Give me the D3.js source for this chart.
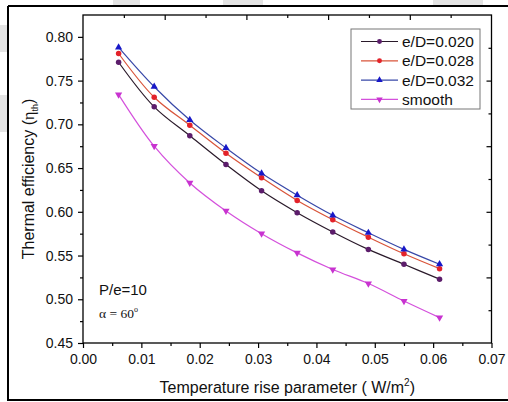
<!DOCTYPE html>
<html>
<head>
<meta charset="utf-8">
<script src="https://cdn.jsdelivr.net/npm/d3@7"></script>
<style>
  body { margin: 0; background: #fff; }
  svg { display: block; font-family: "Liberation Sans", Arial, sans-serif; }
</style>
</head>
<body>
<svg id="chart" width="508" height="402"></svg>
<script>
// temperature rise parameter values (x)
const xVals = [0.0061, 0.0122, 0.0183, 0.0245, 0.0306, 0.0367, 0.0428, 0.0489, 0.0550, 0.0611];

// thermal efficiency per series
const ed020 = [0.771, 0.720, 0.687, 0.654, 0.624, 0.599, 0.577, 0.557, 0.540, 0.523];
const ed028 = [0.781, 0.731, 0.699, 0.667, 0.639, 0.613, 0.591, 0.571, 0.552, 0.535];
const ed032 = [0.788, 0.743, 0.705, 0.673, 0.644, 0.619, 0.596, 0.576, 0.557, 0.540];
const smooth = [0.734, 0.675, 0.633, 0.601, 0.575, 0.553, 0.534, 0.518, 0.498, 0.479];

const seriesNames = ['e/D=0.020', 'e/D=0.028', 'e/D=0.032', 'smooth'];
const xTicks = [0, 0.01, 0.02, 0.03, 0.04, 0.05, 0.06, 0.07];
const yTicks = [0.45, 0.50, 0.55, 0.60, 0.65, 0.70, 0.75, 0.80];

const series = [
    { name: seriesNames[0], values: ed020, line: '#2a1a2a', mark: '#5c1d6b', shape: 'circle' },
    { name: seriesNames[1], values: ed028, line: '#d9543a', mark: '#e3222a', shape: 'circle' },
    { name: seriesNames[2], values: ed032, line: '#3848a8', mark: '#1818c8', shape: 'up' },
    { name: seriesNames[3], values: smooth, line: '#d450dc', mark: '#c833d0', shape: 'down' }
];

const svg = d3.select('#chart');
const L = 83, R = 491.5, T = 15, B = 343;

const x = d3.scaleLinear().domain([0, 0.07]).range([L, R]);
const y = d3.scaleLinear().domain([0.45, 0.825]).range([B, T]);

// faint scan artefacts around the outer frame
const grey = [[0, 25, 8, 27], [0, 95, 8, 37], [113, 0, 27, 5], [223, 0, 40, 5], [433, 0, 50, 5]];
svg.selectAll('.artefact').data(grey).enter().append('rect')
    .attr('x', d => d[0]).attr('y', d => d[1]).attr('width', d => d[2]).attr('height', d => d[3])
    .attr('fill', '#e4e4e4');

// outer frame
svg.append('path')
    .attr('d', 'M 8 6 L 508 6 M 8 6 L 8 400 L 508 400')
    .attr('stroke', '#000').attr('stroke-width', 2).attr('fill', 'none');

// plot frame
svg.append('rect')
    .attr('x', L).attr('y', T).attr('width', R - L).attr('height', B - T)
    .attr('fill', 'none').attr('stroke', '#000').attr('stroke-width', 1.3);

const fmt = d3.format('.2f');

// left axis
const yMinor = d3.range(0.475, 0.81, 0.05);
const leftAx = svg.append('g').attr('transform', `translate(${L},0)`);
leftAx.call(d3.axisLeft(y).tickValues(yTicks).tickFormat(fmt).tickSize(5).tickPadding(5));
leftAx.append('g').call(d3.axisLeft(y).tickValues(yMinor).tickFormat('').tickSize(3));

// bottom axis
const xMinor = d3.range(0.005, 0.07, 0.01);
const bottomAx = svg.append('g').attr('transform', `translate(0,${B})`);
bottomAx.call(d3.axisBottom(x).tickValues(xTicks).tickFormat(fmt).tickSize(5).tickPadding(6));
bottomAx.append('g').call(d3.axisBottom(x).tickValues(xMinor).tickFormat('').tickSize(3));

svg.selectAll('.domain').remove();
svg.selectAll('.tick line').attr('stroke', '#000').attr('stroke-width', 1.2);
svg.selectAll('.tick text')
    .attr('fill', '#111')
    .style('font-size', '14px')
    .style('font-family', '"Liberation Sans", Arial, sans-serif');

// top and right axes: ten divisions, ticks pointing in
const topS = d3.scaleLinear().domain([0, 10]).range([L, R]);
const rightS = d3.scaleLinear().domain([0, 10]).range([B, T]);
const topAx = svg.append('g').attr('transform', `translate(0,${T})`);
topAx.call(d3.axisTop(topS).tickValues(d3.range(1, 10)).tickFormat('').tickSizeInner(0).tickSizeOuter(0));
topAx.selectAll('.tick line').attr('y2', d => d % 2 ? 3 : 5);
const rightAx = svg.append('g').attr('transform', `translate(${R},0)`);
rightAx.call(d3.axisRight(rightS).tickValues(d3.range(1, 10)).tickFormat('').tickSizeInner(0).tickSizeOuter(0));
rightAx.selectAll('.tick line').attr('x2', d => d % 2 ? -3 : -5);
topAx.select('.domain').remove();
rightAx.select('.domain').remove();
topAx.selectAll('.tick line').attr('stroke', '#000').attr('stroke-width', 1.2);
rightAx.selectAll('.tick line').attr('stroke', '#000').attr('stroke-width', 1.2);

// curves
const line = d3.line().curve(d3.curveCatmullRom.alpha(0.5))
    .x((d, i) => x(xVals[i])).y(d => y(d));

const plot = svg.append('g');
series.forEach(s => {
    plot.append('path')
        .attr('d', line(s.values))
        .attr('fill', 'none').attr('stroke', s.line).attr('stroke-width', 1.2);
});

function marker(g, shape, color, cx, cy, size) {
    if (shape === 'circle') {
        g.append('circle').attr('cx', cx).attr('cy', cy).attr('r', size * 0.55).attr('fill', color);
    } else {
        const sym = d3.symbol().type(d3.symbolTriangle).size(size * size * 0.9);
        g.append('path').attr('d', sym())
            .attr('transform', `translate(${cx},${cy})` + (shape === 'down' ? ' rotate(180)' : ''))
            .attr('fill', color);
    }
}

series.forEach(s => {
    const g = plot.append('g');
    s.values.forEach((v, i) => marker(g, s.shape, s.mark, x(xVals[i]), y(v), 5));
});

// legend
const leg = svg.append('g');
leg.append('rect').attr('x', 351).attr('y', 29).attr('width', 129).attr('height', 80)
    .attr('fill', '#fff').attr('stroke', '#777').attr('stroke-width', 1);
series.forEach((s, i) => {
    const yy = 41.5 + i * 19.3;
    leg.append('line').attr('x1', 361).attr('x2', 398).attr('y1', yy).attr('y2', yy)
        .attr('stroke', s.line).attr('stroke-width', 1.2);
    marker(leg, s.shape, s.mark, 379.5, yy, 4.5);
    leg.append('text').attr('x', 402).attr('y', yy + 5.5)
        .style('font-size', '15.5px').attr('fill', '#111').text(s.name);
});

// annotations
svg.append('text').attr('x', 99).attr('y', 295).style('font-size', '15px').attr('fill', '#111')
    .text('P/e=10');
const alpha = svg.append('text').attr('x', 99).attr('y', 318)
    .style('font-family', '"Liberation Serif", "Times New Roman", serif').style('font-size', '13.5px').attr('fill', '#111');
alpha.append('tspan').text('\u03b1 = 60');
alpha.append('tspan').attr('dy', -6).style('font-size', '8px').text('o');

// axis titles
const xt = svg.append('text').attr('x', (L + R) / 2).attr('y', 393).attr('text-anchor', 'middle')
    .style('font-size', '16px').attr('fill', '#111');
xt.append('tspan').text('Temperature rise parameter ( W/m');
xt.append('tspan').attr('dy', -7).style('font-size', '10px').text('2');
xt.append('tspan').attr('dy', 7).text(')');

const yt = svg.append('text')
    .attr('transform', `translate(34,${(T + B) / 2}) rotate(-90)`)
    .attr('text-anchor', 'middle').style('font-size', '16px').attr('fill', '#111');
yt.append('tspan').text('Thermal efficiency (');
yt.append('tspan').style('font-family', '"Liberation Serif", serif').text('\u03b7');
yt.append('tspan').attr('dy', 4).style('font-size', '9px').text('th');
yt.append('tspan').attr('dy', -4).text(')');
</script>
</body>
</html>
